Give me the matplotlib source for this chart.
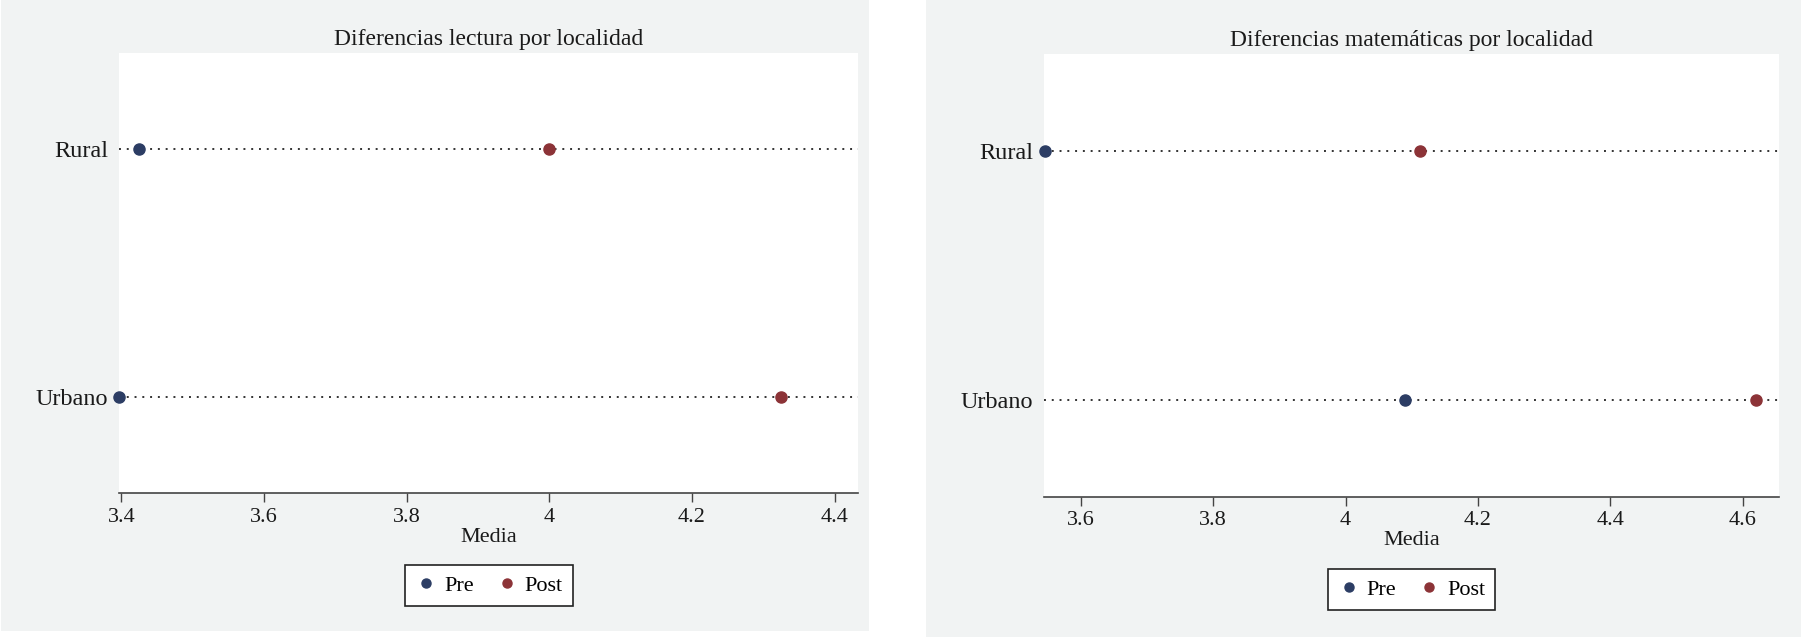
import matplotlib
matplotlib.use("Agg")
import matplotlib.pyplot as plt
from matplotlib.patches import Rectangle
from matplotlib.lines import Line2D

# ─── data ────────────────────────────────────────────────────────────────────
categories = ["Rural", "Urbano"]
series_names = ["Pre", "Post"]

lectura_pre = [3.425, 3.397]
lectura_post = [4.0, 4.325]
lectura_ticks = [3.4, 3.6, 3.8, 4.0, 4.2, 4.4]
lectura_ticklabels = ["3.4", "3.6", "3.8", "4", "4.2", "4.4"]

mate_pre = [3.546, 4.09]
mate_post = [4.113, 4.62]
mate_ticks = [3.6, 3.8, 4.0, 4.2, 4.4, 4.6]
mate_ticklabels = ["3.6", "3.8", "4", "4.2", "4.4", "4.6"]

titles = ["Diferencias lectura por localidad", "Diferencias matemáticas por localidad"]
xlabel = "Media"

# ─── style ───────────────────────────────────────────────────────────────────
plt.rcParams["font.family"] = ["Liberation Serif", "DejaVu Serif"]
PRE_COLOR = "#2c3d64"
POST_COLOR = "#8c3337"
BG = "#f1f3f3"
INK = "#1a1a1a"

W, H = 1801, 637
fig = plt.figure(figsize=(W / 100, H / 100), dpi=100)
fig.patch.set_facecolor("white")


def px_box(x0, y0, x1, y1):
    """pixel box (top-left origin) -> figure fraction [l, b, w, h]"""
    return [x0 / W, 1 - y1 / H, (x1 - x0) / W, (y1 - y0) / H]


# panel backgrounds (grey graph regions)
for (x0, y0, x1, y1) in [(1, 0, 869, 631), (926, 0, 1801, 637)]:
    l, b, w, h = px_box(x0, y0, x1, y1)
    fig.patches.append(Rectangle((l, b), w, h, transform=fig.transFigure,
                                 facecolor=BG, edgecolor="none", zorder=-5))


def dot_panel(rect, pre, post, ticks, ticklabels, xlim, title, legend_xy):
    ax = fig.add_axes(px_box(*rect))
    ax.set_zorder(2)
    ax.set_facecolor("white")
    ypos = [1, 0]  # Rural on top

    for y in ypos:
        ax.axhline(y, color="#333333", lw=1.4, ls=(0, (1, 3)), zorder=1)

    ax.plot(pre, ypos, "o", ms=8, color=PRE_COLOR, ls="none", zorder=3, clip_on=False)
    ax.plot(post, ypos, "o", ms=8, color=POST_COLOR, ls="none", zorder=3, clip_on=False)

    ax.set_xlim(*xlim)
    ax.set_ylim(-0.39, 1.39)
    ax.set_xticks(ticks)
    ax.set_xticklabels(ticklabels, fontsize=16, color=INK)
    ax.set_yticks(ypos)
    ax.set_yticklabels(categories, fontsize=17.5, color=INK)
    ax.tick_params(axis="y", length=0, pad=8)
    ax.tick_params(axis="x", length=6.5, width=1, color="#444444", pad=4)

    for s in ["top", "right", "left"]:
        ax.spines[s].set_visible(False)
    ax.spines["bottom"].set_color("#444444")
    ax.spines["bottom"].set_linewidth(1.2)

    ax.set_title(title, fontsize=17, color=INK, pad=5.5)
    ax.set_xlabel(xlabel, fontsize=16, color=INK, labelpad=1)

    handles = [Line2D([], [], marker="o", ls="none", ms=6.5, color=c)
               for c in (PRE_COLOR, POST_COLOR)]
    leg = fig.legend(handles, series_names, loc="center",
                     bbox_to_anchor=(legend_xy[0] / W, 1 - legend_xy[1] / H),
                     bbox_transform=fig.transFigure, ncol=2, fontsize=16,
                     frameon=True, fancybox=False, handletextpad=0.3,
                     columnspacing=1.0, handlelength=1.0, borderpad=0.45)
    leg.set_zorder(3)
    frame = leg.get_frame()
    frame.set_edgecolor("#222222")
    frame.set_linewidth(1.2)
    frame.set_facecolor("white")
    frame.set_alpha(1.0)
    return ax


dot_panel((119, 53, 858, 493), lectura_pre, lectura_post, lectura_ticks,
          lectura_ticklabels, (3.3966, 4.4327), titles[0], (489, 585.5))
dot_panel((1044, 54, 1779, 496.5), mate_pre, mate_post, mate_ticks,
          mate_ticklabels, (3.5445, 4.6546), titles[1], (1411.5, 589.5))

fig.savefig("out.png", dpi=100, facecolor="white")
